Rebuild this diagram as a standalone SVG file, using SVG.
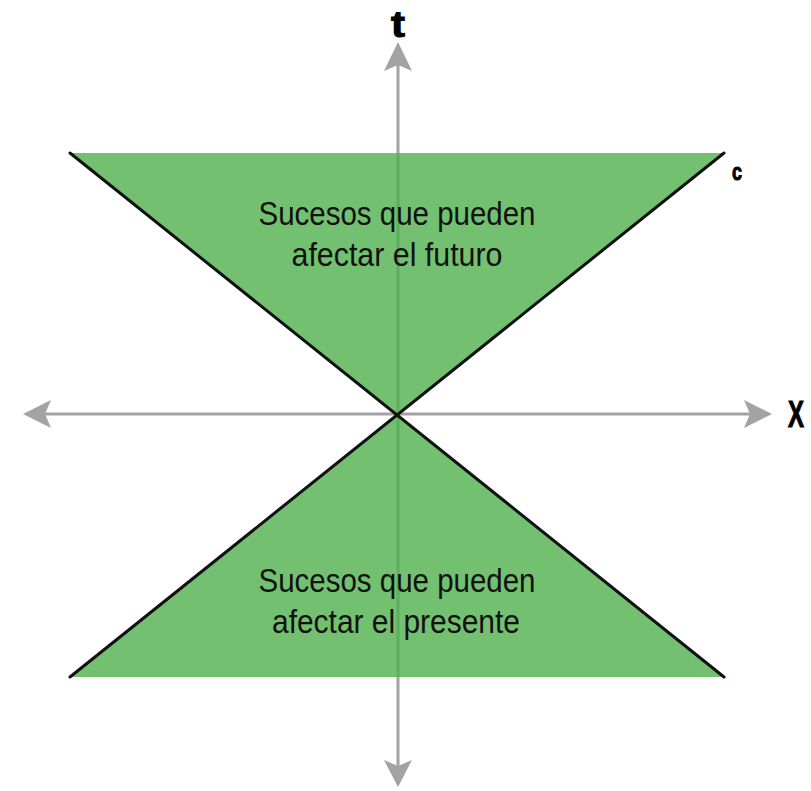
<svg xmlns="http://www.w3.org/2000/svg" width="811" height="791" viewBox="0 0 811 791">
<style>
.axis{stroke:#a3a3a3;stroke-width:3;fill:none}
.head{fill:#a3a3a3}
.cone{fill:#73c170}
.inner{stroke:#5fae5d;stroke-width:3}
.edge{stroke:#111;stroke-width:3;stroke-linecap:round}
.lbl{font-family:"Liberation Sans",Arial,sans-serif;font-size:34px;fill:#111;text-anchor:middle}
.ax{font-family:"Liberation Sans",Arial,sans-serif;font-weight:bold;fill:#000;text-anchor:middle;stroke:#000;stroke-width:1}
</style>
<rect width="811" height="791" fill="#fff"/>
<g id="connectors">
<line class="axis" x1="398" y1="62" x2="398" y2="772"/>
<line class="axis" x1="38" y1="414" x2="758" y2="414"/>
<polygon class="head" points="398,42 412,71 398,65 384,71"/>
<polygon class="head" points="398,787 412,760 398,766 384,760"/>
<polygon class="head" points="23,414 51,400 45,414 51,428"/>
<polygon class="head" points="772,414 744,400 750,414 744,428"/>
</g>
<g id="future-cone">
<polygon class="cone" points="70,153 724,153 398,415"/>
<line class="inner" x1="398" y1="153" x2="398" y2="413"/>
<text class="lbl" x="397" y="225" textLength="277" lengthAdjust="spacingAndGlyphs">Sucesos que pueden</text>
<text class="lbl" x="397" y="266" textLength="211" lengthAdjust="spacingAndGlyphs">afectar el futuro</text>
</g>
<g id="past-cone">
<polygon class="cone" points="70,677 724,677 398,415"/>
<line class="inner" x1="398" y1="417" x2="398" y2="677"/>
<text class="lbl" x="397" y="592" textLength="277" lengthAdjust="spacingAndGlyphs">Sucesos que pueden</text>
<text class="lbl" x="396" y="633" textLength="248" lengthAdjust="spacingAndGlyphs">afectar el presente</text>
</g>
<g id="light-lines">
<line class="edge" x1="70" y1="153" x2="724" y2="677"/>
<line class="edge" x1="724" y1="153" x2="70" y2="677"/>
</g>
<g id="label-t"><text class="ax" x="398" y="37" font-size="36" textLength="14" lengthAdjust="spacingAndGlyphs">t</text></g>
<g id="label-x"><text class="ax" x="796" y="427" font-size="36" textLength="16" lengthAdjust="spacingAndGlyphs">X</text></g>
<g id="label-c"><text class="ax" x="737" y="180" font-size="23" textLength="10" lengthAdjust="spacingAndGlyphs">c</text></g>
</svg>
